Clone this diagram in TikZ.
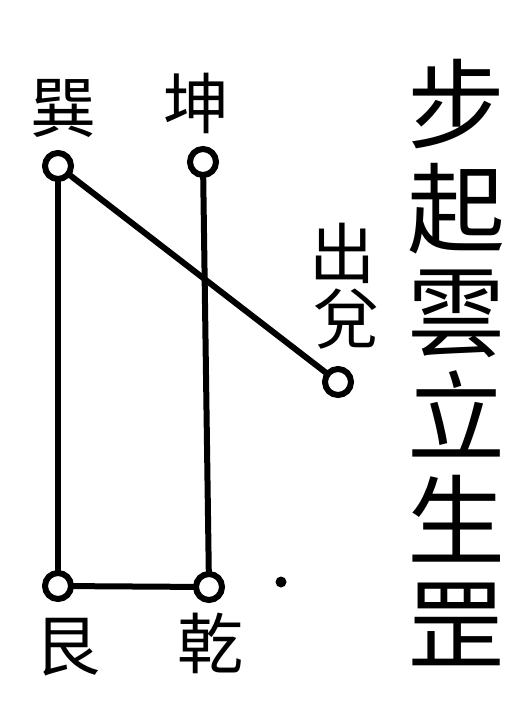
\documentclass[tikz,border=0pt]{standalone}
\usepackage{fontspec}
\newfontfamily\cjk{Noto Sans CJK TC}
\begin{document}
\begin{tikzpicture}[x=1pt,y=-1pt,
  station/.style={circle,draw,line width=6pt,minimum size=26pt,inner sep=0pt,fill=white},
  lab/.style={font=\cjk\fontsize{66}{66}\selectfont,inner sep=0pt},
  big/.style={font=\cjk\fontsize{98}{104}\selectfont,inner sep=0pt,align=center},
  link/.style={line width=6pt},
  spot/.style={circle,fill,minimum size=11pt,inner sep=0pt}]
\useasboundingbox (0,0) rectangle (506,728);
\coordinate (xun) at (58,166);
\coordinate (kun) at (203,162);
\coordinate (dui) at (338,382);
\coordinate (gen) at (58,586);
\coordinate (qian) at (209,587);
\draw[link] (xun) -- (gen);
\draw[link] (kun) -- (qian);
\draw[link] (gen) -- (qian);
\draw[link] (xun) -- (dui);
\node[station] (nxun) at (xun) {};
\node[station] (nkun) at (kun) {};
\node[station] (ndui) at (dui) {};
\node[station] (ngen) at (gen) {};
\node[station] (nqian) at (qian) {};
\node[spot] (dot) at (281,582) {};
\node[lab] (lxun) at (63,108) {巽};
\node[lab] (lkun) at (196,103) {坤};
\node[lab] (lchu) at (342,253) {出};
\node[lab] (ldui) at (346,319) {兌};
\node[lab] (lgen) at (67,647) {艮};
\node[lab] (lqian) at (210,643) {乾};
\node[big] (title) at (456,362) {步\\起\\雲\\立\\生\\罡};
\end{tikzpicture}
\end{document}
